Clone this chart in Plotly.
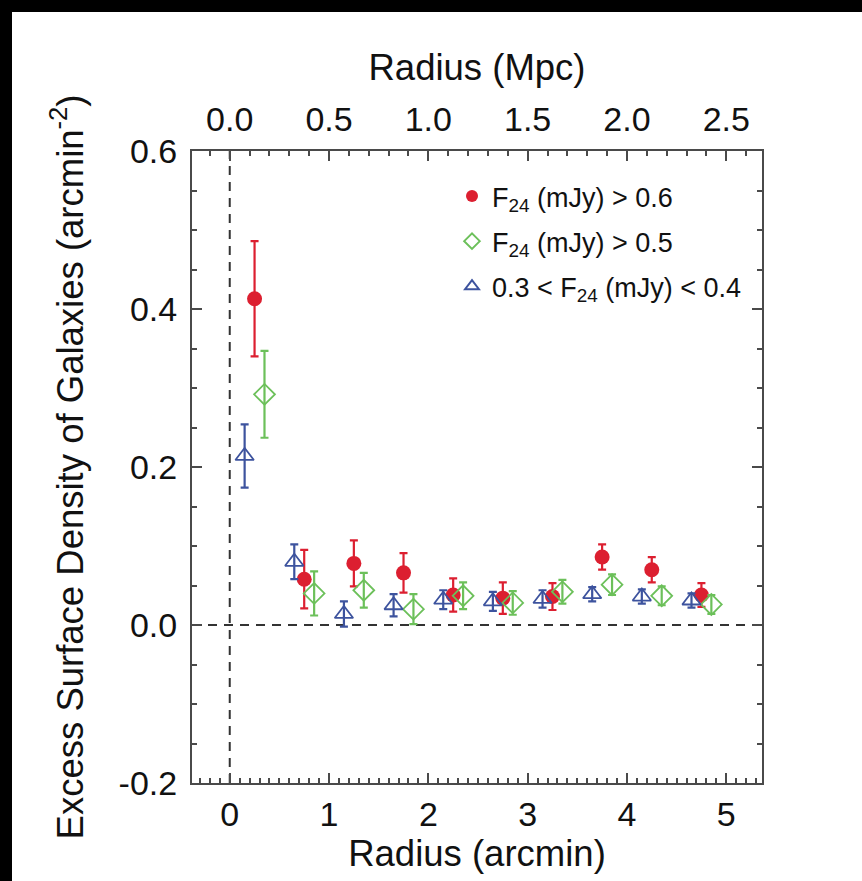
import plotly.graph_objects as go

# ---------------- data ----------------
red_x = [0.25, 0.75, 1.25, 1.75, 2.25, 2.75, 3.25, 3.75, 4.25, 4.75]
red_y = [0.413, 0.058, 0.078, 0.066, 0.038, 0.034, 0.036, 0.086, 0.070, 0.038]
red_err = [0.073, 0.037, 0.029, 0.025, 0.021, 0.020, 0.017, 0.016, 0.016, 0.015]

green_x = [0.35, 0.85, 1.35, 1.85, 2.35, 2.85, 3.35, 3.85, 4.35, 4.85]
green_y = [0.292, 0.040, 0.044, 0.020, 0.037, 0.028, 0.042, 0.051, 0.037, 0.026]
green_err = [0.055, 0.028, 0.022, 0.019, 0.017, 0.015, 0.015, 0.013, 0.012, 0.012]

blue_x = [0.15, 0.65, 1.15, 1.65, 2.15, 2.65, 3.15, 3.65, 4.15, 4.65]
blue_y = [0.214, 0.080, 0.014, 0.025, 0.032, 0.030, 0.033, 0.039, 0.036, 0.031]
blue_err = [0.040, 0.022, 0.016, 0.014, 0.012, 0.012, 0.011, 0.009, 0.009, 0.009]

y_tickvals = [-0.2, 0.0, 0.2, 0.4, 0.6]
y_ticktext = ["-0.2", "0.0", "0.2", "0.4", "0.6"]

x_range = [-0.38, 5.36]          # arcmin
mpc_range = [-0.19, 2.68]        # Mpc (top axis)
y_range = [-0.2, 0.6]

RED = "#DC1F30"
GREEN = "#6CC05A"
BLUE = "#3D539E"
AX = "#4a4a4a"
FONT = "Liberation Sans, Arial, Helvetica, sans-serif"

W, H = 862, 881
ML, MR, MT, MB = 192, 100, 151, 98
PW, PH = W - ML - MR, H - MT - MB

fig = go.Figure()

fig.add_trace(go.Scatter(
    x=red_x, y=red_y, mode="markers", name="F<sub>24</sub> (mJy) > 0.6",
    legendgroup="a",
    marker=dict(symbol="circle", size=15, color=RED, line=dict(width=0)),
    error_y=dict(type="data", array=red_err, color=RED, thickness=2.2, width=4),
))
fig.add_trace(go.Scatter(
    x=green_x, y=green_y, mode="markers", name="F<sub>24</sub> (mJy) > 0.5",
    legendgroup="b",
    marker=dict(symbol="diamond-open", size=16, color=GREEN, line=dict(width=1.8, color=GREEN)),
    error_y=dict(type="data", array=green_err, color=GREEN, thickness=2.2, width=4),
))
fig.add_trace(go.Scatter(
    x=blue_x, y=blue_y, mode="markers", name="0.3 < F<sub>24</sub> (mJy) < 0.4",
    legendgroup="c",
    marker=dict(symbol="triangle-up-open", size=16, color=BLUE, line=dict(width=1.8, color=BLUE)),
    error_y=dict(type="data", array=blue_err, color=BLUE, thickness=2.2, width=4),
))
# helper trace so the top (Mpc) axis is drawn
fig.add_trace(go.Scatter(x=[None], y=[None], xaxis="x2", yaxis="y", showlegend=False,
                         hoverinfo="skip", mode="markers"))

# dashed zero lines
fig.add_shape(type="line", xref="x", yref="paper", x0=0, x1=0, y0=0, y1=1,
              line=dict(color="#333", width=2, dash="9px,7px"), layer="below")
fig.add_shape(type="line", xref="paper", yref="y", x0=0, x1=1, y0=0, y1=0,
              line=dict(color="#333", width=2, dash="9px,7px"), layer="below")

# black frame strips (top and left)
fig.add_shape(type="rect", xref="paper", yref="paper",
              x0=-ML / PW - 0.01, x1=(12 - ML) / PW, y0=-MB / PH - 0.01, y1=1 + MT / PH + 0.01,
              fillcolor="black", line=dict(width=0), layer="above")
fig.add_shape(type="rect", xref="paper", yref="paper",
              x0=-ML / PW - 0.01, x1=1 + MR / PW + 0.01, y0=1 + (MT - 12) / PH, y1=1 + MT / PH + 0.01,
              fillcolor="black", line=dict(width=0), layer="above")

axis_common = dict(showline=True, linecolor=AX, linewidth=2, ticks="inside", tickcolor=AX,
                   tickwidth=2, showgrid=False, zeroline=False,
                   tickfont=dict(family=FONT, size=34, color="#111"))

fig.update_layout(
    width=W, height=H,
    margin=dict(l=ML, r=MR, t=MT, b=MB, pad=0),
    paper_bgcolor="white", plot_bgcolor="white",
    font=dict(family=FONT, color="#111"),
    showlegend=True,
    legend=dict(x=(452 - ML) / PW, y=(783 - 172) / PH, xanchor="left", yanchor="top",
                bgcolor="rgba(0,0,0,0)", borderwidth=0, traceorder="grouped",
                tracegroupgap=7, itemwidth=30, itemsizing="constant",
                font=dict(family=FONT, size=27, color="#111")),
    xaxis=dict(range=x_range, dtick=1, tick0=0, ticklen=10, tickformat="d",
               minor=dict(dtick=0.1, tick0=0, ticks="inside", ticklen=5, tickwidth=1.5, tickcolor=AX),
               title=dict(text="Radius (arcmin)", font=dict(family=FONT, size=36.5), standoff=1),
               ticklabelstandoff=0, mirror=False, **axis_common),
    xaxis2=dict(range=mpc_range, overlaying="x", side="top", dtick=0.5, tick0=0, ticklen=10,
                tickformat=".1f",
                minor=dict(dtick=0.1, tick0=0, ticks="inside", ticklen=5, tickwidth=1.5, tickcolor=AX),
                title=dict(text="Radius (Mpc)", font=dict(family=FONT, size=36.5), standoff=9),
                ticklabelstandoff=4, **axis_common),
    yaxis=dict(range=y_range, tickvals=y_tickvals, ticktext=y_ticktext, ticklen=10,
               minor=dict(dtick=0.05, tick0=0, ticks="inside", ticklen=5, tickwidth=1.5, tickcolor=AX),
               title=dict(text="Excess Surface Density of Galaxies (arcmin<sup>-2</sup>)",
                          font=dict(family=FONT, size=36.5), standoff=24),
               ticklabelstandoff=6, mirror="ticks", **axis_common),
)

fig.write_html("out.html")
